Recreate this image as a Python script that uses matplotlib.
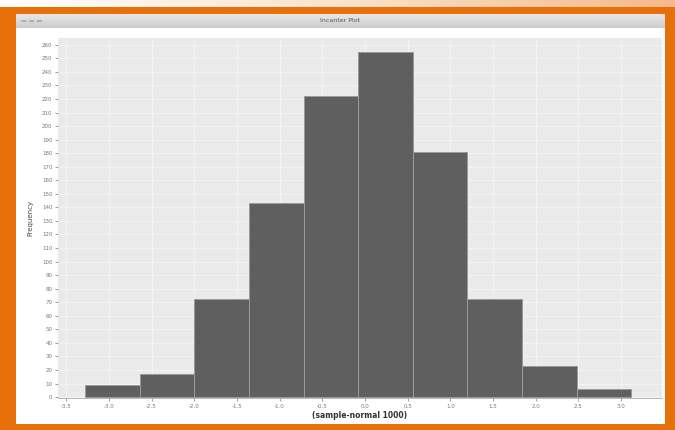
import matplotlib
matplotlib.use("Agg")
import matplotlib.pyplot as plt
from matplotlib.patches import Rectangle, Circle
from matplotlib.colors import LinearSegmentedColormap
import numpy as np

# histogram of (sample-normal 1000)
bin_edges = [-3.28, -2.64, -2.00, -1.36, -0.72, -0.08, 0.56, 1.20, 1.84, 2.48, 3.12]
counts = [9, 17, 72, 143, 222, 255, 181, 72, 23, 6]
x_ticks = [-3.5, -3.0, -2.5, -2.0, -1.5, -1.0, -0.5, 0.0, 0.5, 1.0, 1.5, 2.0, 2.5, 3.0]
y_ticks = list(range(0, 261, 10))

W, H = 675, 430
ORANGE = "#E8700A"


def px_box(x0, y0, x1, y1):
    # pixel box (top-left origin) -> figure fraction rect
    return [x0 / W, 1 - y1 / H, (x1 - x0) / W, (y1 - y0) / H]


fig = plt.figure(figsize=(W / 100, H / 100), dpi=100)
fig.patch.set_facecolor(ORANGE)

# window body (behind everything)
fig.patches.append(Rectangle((16 / W, 1 - 424 / H), (665 - 16) / W, (424 - 14) / H,
                             transform=fig.transFigure, facecolor="white",
                             edgecolor="none", zorder=-5))

# top strip: white -> peach gradient
top = fig.add_axes(px_box(0, 0, W, 7))
grad = np.linspace(0, 1, 256).reshape(1, -1)
cmap = LinearSegmentedColormap.from_list("peach", ["#ffffff", "#fbe3cc", "#f5b98a"])
top.imshow(grad, aspect="auto", cmap=cmap)
top.axis("off")

# title bar
bar = fig.add_axes(px_box(16, 14, 665, 28))
tgrad = np.linspace(0, 1, 64).reshape(-1, 1)
bar.imshow(tgrad, aspect="auto",
           cmap=LinearSegmentedColormap.from_list("tb", ["#e8e8e8", "#cccccc"]),
           extent=[0, 1, 0, 1])
bar.set_xlim(0, 1)
bar.set_ylim(0, 1)
for cx in [0.012, 0.024, 0.036]:
    bar.add_patch(Circle((cx, 0.5), 0.004, facecolor="#b8b8b8",
                         edgecolor="#909090", lw=0.4))
bar.text(0.5, 0.5, "Incanter Plot", ha="center", va="center",
         fontsize=4.5, color="#555555")
bar.axis("off")

# plot area
ax = fig.add_axes(px_box(58, 38, 662, 398))
ax.set_facecolor("#eaeaea")
widths = np.diff(bin_edges)
ax.bar(bin_edges[:-1], counts, width=widths, align="edge",
       color="#5f5f5f", edgecolor="#9a9a9a", linewidth=0.7, zorder=3)

ax.set_xlim(-3.595, 3.478)
ax.set_ylim(-0.7, 265)
ax.set_xticks(x_ticks)
ax.set_xticklabels([f"{v:.1f}" for v in x_ticks])
ax.set_yticks(y_ticks)
ax.grid(True, color="#f6f6f6", linewidth=0.6, zorder=1)
ax.set_axisbelow(True)
ax.tick_params(labelsize=4, colors="#777777", length=2, width=0.5, pad=2)
for side in ["top", "right", "left"]:
    ax.spines[side].set_visible(False)
ax.spines["bottom"].set_color("#aaaaaa")
ax.spines["bottom"].set_linewidth(0.6)

ax.set_ylabel("Frequency", fontsize=5, color="#444444", labelpad=6)
ax.set_xlabel("(sample-normal 1000)", fontsize=5.5, color="#333333",
              fontweight="bold", labelpad=2)

fig.savefig("out.png", dpi=100, facecolor=fig.get_facecolor())
